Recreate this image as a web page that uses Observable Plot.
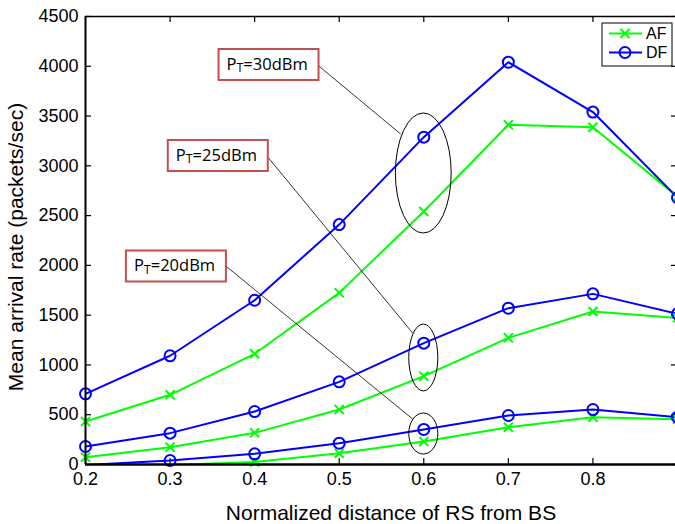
<!DOCTYPE html>
<html>
<head>
<meta charset="utf-8">
<script src="https://cdn.jsdelivr.net/npm/d3@7"></script>
<script src="https://cdn.jsdelivr.net/npm/@observablehq/plot@0.6"></script>
<style>
  html, body { margin: 0; padding: 0; background: #fff; overflow: hidden; }
</style>
</head>
<body>
<div id="chart"></div>
<script>
// ---- data ----
const distances = [0.2, 0.3, 0.4, 0.5, 0.6, 0.7, 0.8, 0.9];
const af30 = [432, 700, 1112, 1724, 2541, 3412, 3388, 2690];
const df30 = [710, 1092, 1650, 2410, 3288, 4041, 3540, 2680];
const af25 = [74, 174, 318, 552, 887, 1272, 1537, 1473];
const df25 = [181, 315, 532, 830, 1219, 1570, 1714, 1513];
const af20 = [-30, -5, 25, 113, 231, 375, 475, 455];
const df20 = [-5, 40, 107, 214, 352, 492, 552, 475];

const xTicks = [0.2, 0.3, 0.4, 0.5, 0.6, 0.7, 0.8];
const yTicks = [0, 500, 1000, 1500, 2000, 2500, 3000, 3500, 4000, 4500];
const schemes = ["AF", "DF"];
const xTitle = "Normalized distance of RS from BS";
const yTitle = "Mean arrival rate (packets/sec)";

// annotation anchors (data coordinates)
const powerLabels = ["30dBm", "25dBm", "20dBm"];
const labelAnchors = [[0.417, 4013], [0.357, 3099], [0.3075, 1989]];
const leaderFrom = [[0.4764, 3998], [0.4161, 3084], [0.3665, 1989]];
const leaderTo = [[0.5732, 3315], [0.5874, 1316], [0.5874, 452]];
const ellipseCenters = [[0.6, 2923], [0.6, 1070], [0.6, 306]];
const ellipseRadii = [[0.033, 603], [0.0172, 336], [0.0172, 206]];

// ---- table built from the arrays ----
const seriesList = [
  {scheme: "AF", power: "30", values: af30},
  {scheme: "DF", power: "30", values: df30},
  {scheme: "AF", power: "25", values: af25},
  {scheme: "DF", power: "25", values: df25},
  {scheme: "AF", power: "20", values: af20},
  {scheme: "DF", power: "20", values: df20}
];
const rows = seriesList.flatMap(s => distances.map((d, i) => ({
  x: d, y: s.values[i], scheme: s.scheme, key: s.scheme + s.power
})));

const GREEN = "#00ff00", BLUE = "#0000ff", BOXRED = "#c0504d";

function annotationLayer(index, scales) {
  const x = scales.x, y = scales.y;
  const g = d3.create("svg:g").attr("text-anchor", "start");
  // leader lines and ellipses
  powerLabels.forEach((lab, i) => {
    g.append("line")
      .attr("x1", x(leaderFrom[i][0])).attr("y1", y(leaderFrom[i][1]))
      .attr("x2", x(leaderTo[i][0])).attr("y2", y(leaderTo[i][1]))
      .attr("stroke", "#000").attr("stroke-width", 0.8);
    const cx = x(ellipseCenters[i][0]), cy = y(ellipseCenters[i][1]);
    g.append("ellipse")
      .attr("cx", cx).attr("cy", cy)
      .attr("rx", Math.abs(x(ellipseCenters[i][0] + ellipseRadii[i][0]) - cx))
      .attr("ry", Math.abs(y(ellipseCenters[i][1] + ellipseRadii[i][1]) - cy))
      .attr("fill", "none").attr("stroke", "#000").attr("stroke-width", 1);
  });
  // label boxes
  powerLabels.forEach((lab, i) => {
    const bx = x(labelAnchors[i][0]), by = y(labelAnchors[i][1]);
    const w = 100, h = 31;
    g.append("rect")
      .attr("x", bx - w / 2).attr("y", by - h / 2)
      .attr("width", w).attr("height", h)
      .attr("fill", "#fff").attr("stroke", BOXRED).attr("stroke-width", 2);
    const t = g.append("text")
      .attr("x", bx - w / 2 + 8).attr("y", by + 5.5)
      .attr("text-anchor", "start")
      .attr("font-family", "'Open Sans', 'Noto Sans', sans-serif")
      .attr("font-size", 16.5).attr("fill", "#000");
    t.append("tspan").text("P");
    t.append("tspan").attr("font-size", 12.5).attr("dy", 2.5).text("T");
    t.append("tspan").attr("dy", -2.5).text("=" + lab);
  });
  // legend
  const lx = 602, ly = 23, lw = 70, lh = 43;
  g.append("rect").attr("x", lx).attr("y", ly).attr("width", lw).attr("height", lh)
    .attr("fill", "#fff").attr("stroke", "#000").attr("stroke-width", 1);
  schemes.forEach((s, i) => {
    const yy = 33.5 + i * 19;
    const col = s === "AF" ? GREEN : BLUE;
    g.append("line").attr("x1", 609).attr("x2", 642).attr("y1", yy).attr("y2", yy)
      .attr("stroke", col).attr("stroke-width", 2);
    if (s === "AF") {
      g.append("path")
        .attr("d", `M${625 - 4.5},${yy - 4.5}L${625 + 4.5},${yy + 4.5}M${625 - 4.5},${yy + 4.5}L${625 + 4.5},${yy - 4.5}`)
        .attr("stroke", col).attr("stroke-width", 2);
    } else {
      g.append("circle").attr("cx", 625).attr("cy", yy).attr("r", 5.5)
        .attr("fill", "none").attr("stroke", col).attr("stroke-width", 2);
    }
    g.append("text").attr("x", 646).attr("y", yy + 5.8).attr("text-anchor", "start")
      .attr("font-size", 16).attr("fill", "#000").text(s);
  });
  // axis titles
  g.append("text").attr("x", 391).attr("y", 520).attr("text-anchor", "middle")
    .attr("font-size", 21).attr("fill", "#000").text(xTitle);
  g.append("text").attr("transform", "translate(23,247) rotate(-90)")
    .attr("text-anchor", "middle").attr("font-size", 21).attr("fill", "#000").text(yTitle);
  return g.node();
}

const chart = Plot.plot({
  width: 675,
  height: 524,
  marginLeft: 85,
  marginTop: 16,
  marginBottom: 60,
  marginRight: 0,
  style: {fontFamily: "'Liberation Sans', Arial, sans-serif", fontSize: "18px", background: "#fff", color: "#000"},
  x: {domain: [0.2, 0.9], range: [85, 677], axis: null},
  y: {domain: [0, 4500], range: [464, 16], axis: null},
  marks: [
    // frame
    Plot.ruleX([0.9], {y1: 0, y2: 4500, stroke: "#000", strokeWidth: 1}),
    Plot.ruleY([4500], {x1: 0.2, x2: 0.9, stroke: "#000", strokeWidth: 1.3}),
    // inward ticks
    Plot.ruleX(xTicks, {x: d => d, y1: 0, y2: 60, stroke: "#000", strokeWidth: 1.2}),
    Plot.ruleX(xTicks, {x: d => d, y1: 4440, y2: 4500, stroke: "#000", strokeWidth: 1.2}),
    Plot.ruleY(yTicks, {y: d => d, x1: 0.2, x2: 0.2071, stroke: "#000", strokeWidth: 1.2}),
    Plot.ruleY(yTicks, {y: d => d, x1: 0.8929, x2: 0.9, stroke: "#000", strokeWidth: 1.2}),
    // tick labels
    Plot.text(xTicks, {x: d => d, y: 0, dy: 15, text: d => d.toFixed(1), fontSize: 18, fill: "#000"}),
    Plot.text(yTicks, {x: 0.2, y: d => d, dx: -7, textAnchor: "end", text: d => String(d), fontSize: 18, fill: "#000"}),
    // series
    Plot.line(rows, {x: "x", y: "y", z: "key", stroke: d => d.scheme === "AF" ? GREEN : BLUE, strokeWidth: 2, clip: true}),
    Plot.dot(rows.filter(d => d.scheme === "AF" && d.y >= 0), {x: "x", y: "y", symbol: "times", r: 4.2, stroke: GREEN, strokeWidth: 2}),
    Plot.dot(rows.filter(d => d.scheme === "DF" && d.y >= 0), {x: "x", y: "y", symbol: "circle", r: 5.5, fill: "none", stroke: BLUE, strokeWidth: 2}),
    // axes lines on top
    Plot.ruleY([0], {x1: 0.2, x2: 0.9, stroke: "#000", strokeWidth: 2.5}),
    Plot.ruleX([0.2], {y1: 0, y2: 4500, stroke: "#000", strokeWidth: 2}),
    annotationLayer
  ]
});
document.getElementById("chart").appendChild(chart);
</script>
</body>
</html>
